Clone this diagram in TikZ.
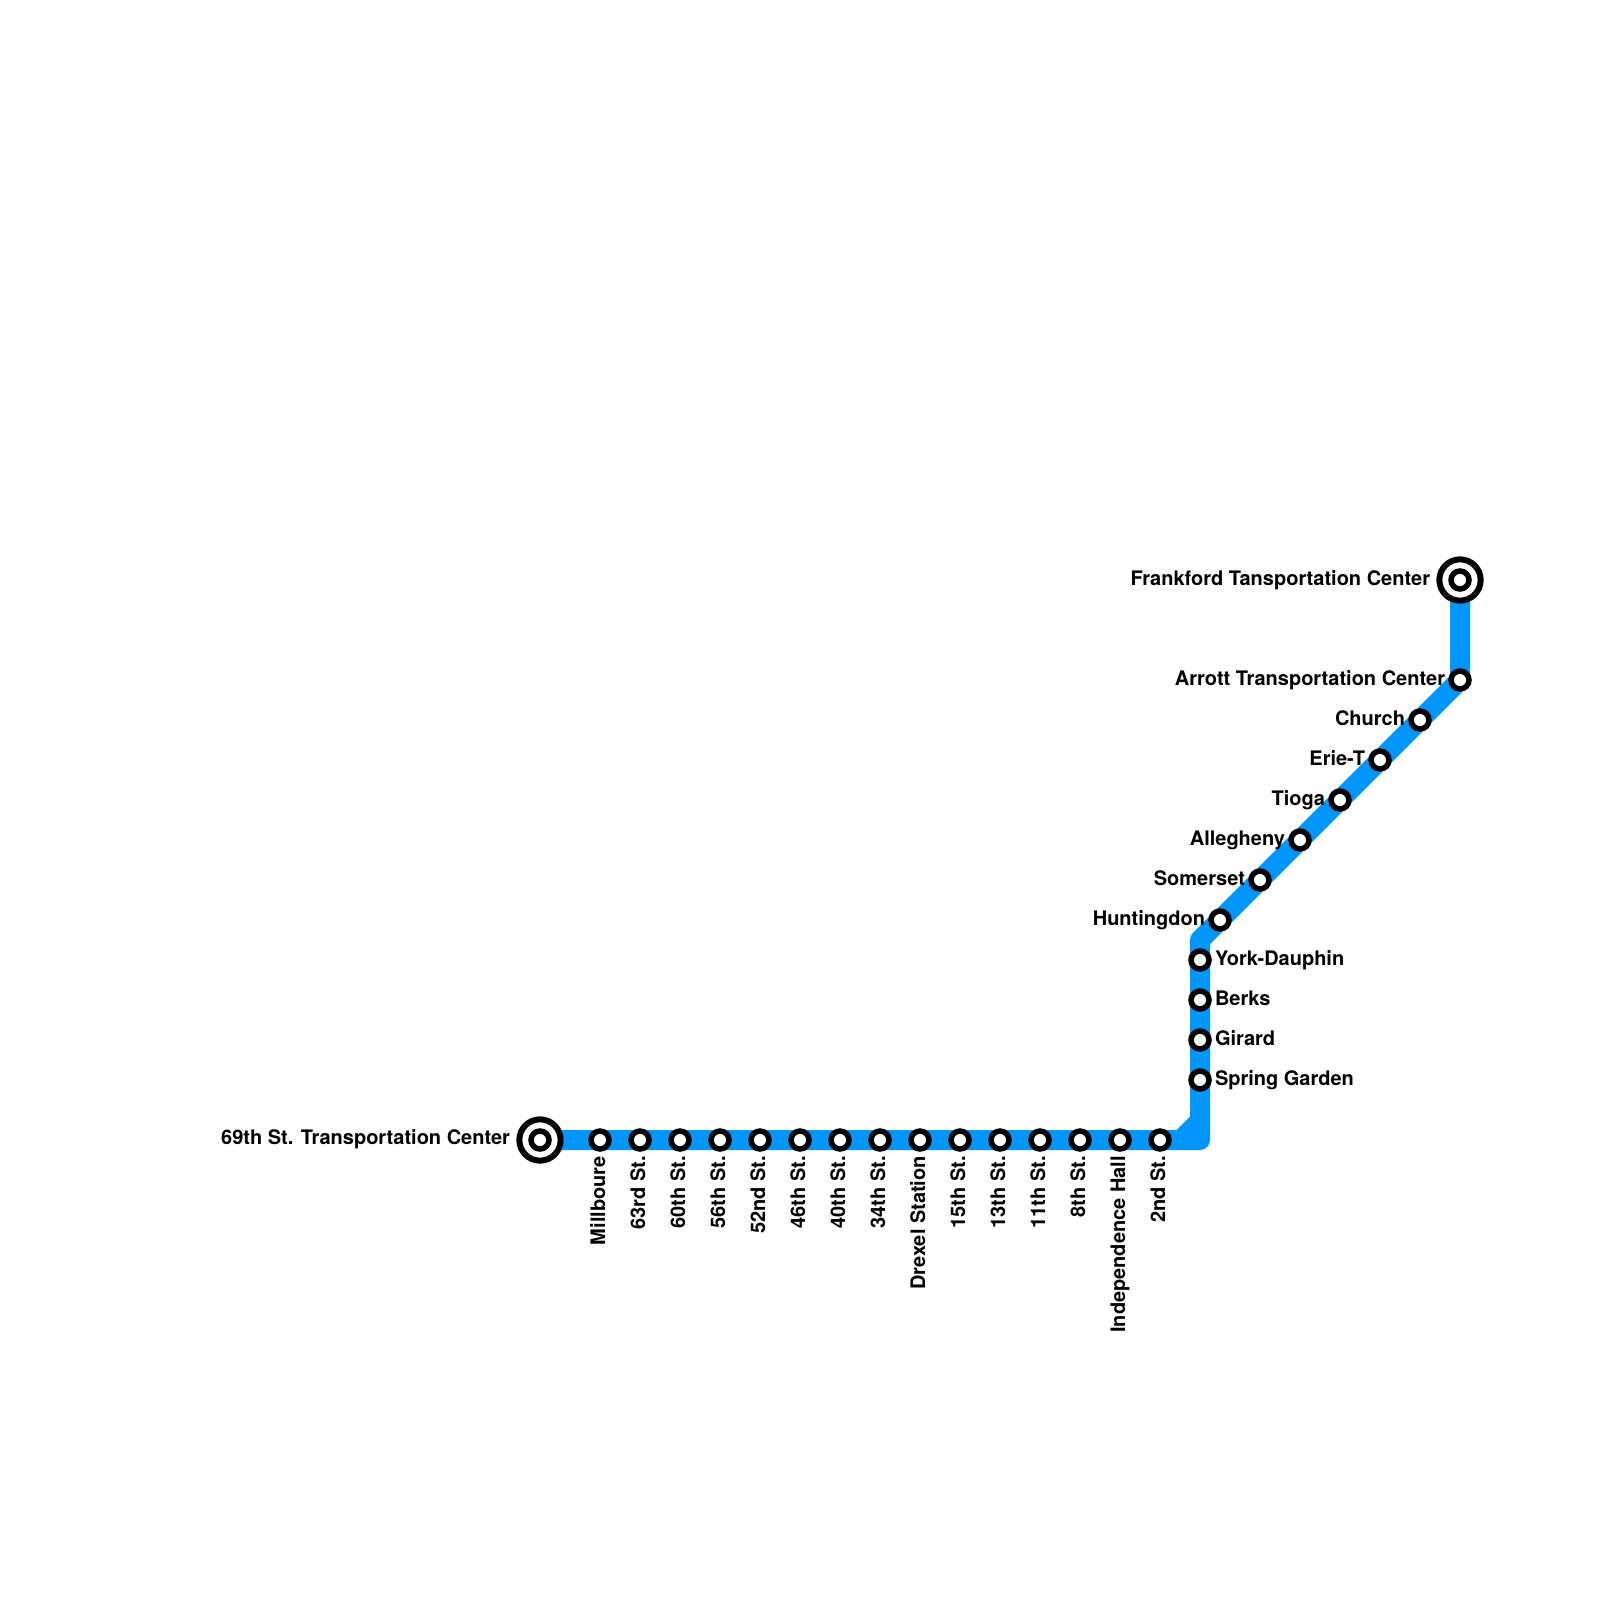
\documentclass[tikz,border=0pt]{standalone}
\usepackage{fontspec}
\setmainfont{TeX Gyre Heros}
\usetikzlibrary{backgrounds}
\definecolor{lineblue}{HTML}{0096FF}
\tikzset{
  x=1pt,y=-1pt,
  track/.style={draw=lineblue,line width=20pt,line join=round,line cap=butt},
  stop/.style={circle,draw=black,fill=white,line width=5.5pt,minimum size=18pt,inner sep=0pt},
  terminus/.style={circle,draw=black,fill=white,line width=6pt,minimum size=41.3pt,inner sep=0pt},
  txt/.style={inner sep=0pt,outer sep=0pt,text=black,font=\fontsize{20pt}{23pt}\selectfont\bfseries},
  lbl w/.style={txt,anchor=base east},
  lbl e/.style={txt,anchor=base west},
  lbl s/.style={txt,anchor=base east,rotate=90},
}
\begin{document}
\begin{tikzpicture}
\useasboundingbox (0,0) rectangle (1600,1600);
% termini
\node[terminus] (t69) at (540,1140) {};
\node[stop] (t69i) at (540,1140) {};
\node[terminus] (tfr) at (1460,580) {};
\node[stop] (tfri) at (1460,580) {};
\node[lbl w] (l69) at (510,1144) {69th St. Transportation Center};
\node[lbl w] (lfr) at (1430,585) {Frankford Tansportation Center};
% horizontal stations
\foreach \n/\x/\t in {a/600/Millboure,b/640/63rd St.,c/680/60th St.,d/720/56th St.,e/760/52nd St.,f/800/46th St.,g/840/40th St.,h/880/34th St.,i/920/Drexel Station,j/960/15th St.,k/1000/13th St.,l/1040/11th St.,m/1080/8th St.,n/1120/Independence Hall,o/1160/2nd St.}{
  \node[stop] (s\n) at (\x,1140) {};
  \node[lbl s] (l\n) at (\x+5,1156) {\t};
}
% vertical stations
\foreach \n/\y/\t in {p/960/York-Dauphin,q/1000/Berks,r/1040/Girard,s/1080/Spring Garden}{
  \node[stop] (s\n) at (1200,\y) {};
  \node[lbl e] (l\n) at (1215,\y+5) {\t};
}
% diagonal stations
\foreach \n/\x/\y/\t in {t/1220/920/Huntingdon,u/1260/880/Somerset,v/1300/840/Allegheny,w/1340/800/Tioga,x/1380/760/Erie-T,y/1420/720/Church,z/1460/680/Arrott Transportation Center}{
  \node[stop] (s\n) at (\x,\y) {};
  \node[lbl w] (l\n) at (\x-15,\y+5) {\t};
}
\coordinate (bendlow) at (1200,1140);
\coordinate (bendhigh) at (1200,940);
\begin{pgfonlayer}{background}
  \draw[track] (t69.center) -- (bendlow) -- (bendhigh) -- (sz.center) -- (tfr.center);
  \fill[lineblue] (1176,1130.5) -- (1190.5,1116) -- (1190.5,1131) -- cycle;
\end{pgfonlayer}
\end{tikzpicture}
\end{document}
